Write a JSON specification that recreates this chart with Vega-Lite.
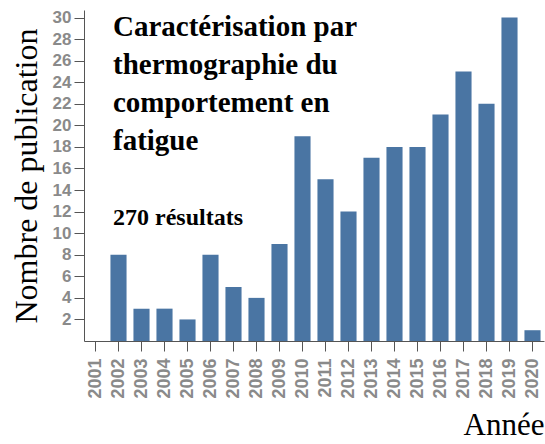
{
  "$schema": "https://vega.github.io/schema/vega-lite/v6.json",
  "width": 460,
  "height": 331,
  "autosize": "none",
  "padding": {"left": 84, "top": 10, "right": 1, "bottom": 103},
  "background": "white",
  "title": {
    "text": ["Caractérisation par", "thermographie du", "comportement en", "fatigue"],
    "subtitle": "270 résultats",
    "anchor": "start",
    "frame": "group",
    "orient": "top",
    "offset": -221,
    "dx": 29,
    "font": "Liberation Serif",
    "fontSize": 29,
    "fontWeight": "bold",
    "lineHeight": 38,
    "color": "black",
    "subtitleFont": "Liberation Serif",
    "subtitleFontSize": 24,
    "subtitleFontWeight": "bold",
    "subtitleColor": "black",
    "subtitlePadding": 50
  },
  "data": {
    "values": [
      {"annee": "2001", "n": 0},
      {"annee": "2002", "n": 8},
      {"annee": "2003", "n": 3},
      {"annee": "2004", "n": 3},
      {"annee": "2005", "n": 2},
      {"annee": "2006", "n": 8},
      {"annee": "2007", "n": 5},
      {"annee": "2008", "n": 4},
      {"annee": "2009", "n": 9},
      {"annee": "2010", "n": 19},
      {"annee": "2011", "n": 15},
      {"annee": "2012", "n": 12},
      {"annee": "2013", "n": 17},
      {"annee": "2014", "n": 18},
      {"annee": "2015", "n": 18},
      {"annee": "2016", "n": 21},
      {"annee": "2017", "n": 25},
      {"annee": "2018", "n": 22},
      {"annee": "2019", "n": 30},
      {"annee": "2020", "n": 1}
    ]
  },
  "mark": {"type": "bar", "color": "#4a75a3"},
  "encoding": {
    "x": {
      "field": "annee",
      "type": "ordinal",
      "scale": {"paddingInner": 0.3, "paddingOuter": 0.15},
      "axis": {
        "title": "Année",
        "titleFont": "Liberation Serif",
        "titleFontSize": 31,
        "titleFontWeight": "normal",
        "titleColor": "black",
        "titleAnchor": "end",
        "titlePadding": 12,
        "labelAngle": -90,
        "labelFont": "Liberation Sans",
        "labelFontSize": 18,
        "labelFontWeight": "bold",
        "labelColor": "#8a8a8a",
        "labelPadding": 7,
        "tickSize": 10,
        "tickColor": "#555",
        "domainColor": "#555",
        "grid": false
      }
    },
    "y": {
      "field": "n",
      "type": "quantitative",
      "scale": {"domain": [0, 30.7], "nice": false},
      "axis": {
        "title": "Nombre de publication",
        "titleFont": "Liberation Serif",
        "titleFontSize": 32,
        "titleFontWeight": "normal",
        "titleColor": "black",
        "titlePadding": 9,
        "values": [2, 4, 6, 8, 10, 12, 14, 16, 18, 20, 22, 24, 26, 28, 30],
        "labelFont": "Liberation Sans",
        "labelFontSize": 17,
        "labelFontWeight": "bold",
        "labelColor": "#8a8a8a",
        "labelPadding": 3,
        "tickSize": 10,
        "tickColor": "#555",
        "domainColor": "#555",
        "grid": false
      }
    }
  },
  "config": {"view": {"stroke": null}}
}
